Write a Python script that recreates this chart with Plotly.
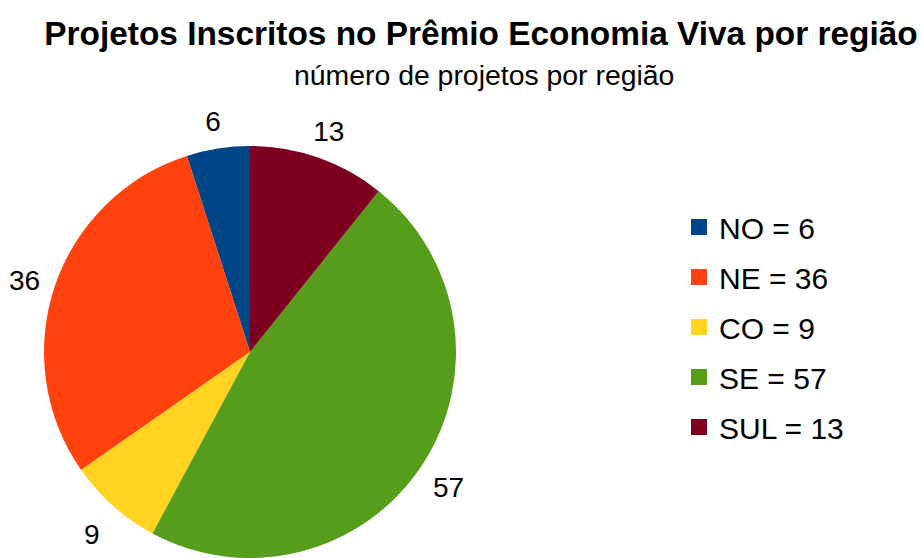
import math
import plotly.graph_objects as go

regions = ["NO", "NE", "CO", "SE", "SUL"]
counts = [6, 36, 9, 57, 13]
colors = ["#004586", "#ff420e", "#ffd320", "#579d1c", "#7e0021"]
title_text = "Projetos Inscritos no Prêmio Economia Viva por região"
subtitle_text = "número de projetos por região"

W, H = 921, 558
FONT = "Liberation Sans"
CX, CY, R = 250, 206, 206  # pie centre (px from left / bottom) and radius (px)
DOMAIN = dict(x=[(CX - R) / W, (CX + R) / W], y=[(CY - R) / H, (CY + R) / H])
LABEL_R = 1.155   # label distance, in pie radii
LABEL_CY = CY - 7  # label ring centre (px from bottom)

total = sum(counts)
first_share = 360.0 * counts[0] / total
# mid-angle of each slice (counterclockwise from 12 o'clock)
mid_angles = []
acc = 0
for c in counts:
    mid_angles.append(2 * math.pi * (acc + c / 2) / total)
    acc += c
label_x = [-LABEL_R * math.sin(a) for a in mid_angles]
label_y = [LABEL_R * math.cos(a) for a in mid_angles]

fig = go.Figure()
fig.add_trace(go.Pie(
    labels=regions, values=counts, sort=False, direction="counterclockwise",
    rotation=-first_share, marker=dict(colors=colors, line=dict(width=0)),
    textinfo="none", showlegend=False, hoverinfo="label+value",
    domain=DOMAIN,
))
# slice value labels on an axis system whose unit is the pie radius
fig.add_trace(go.Scatter(
    x=label_x, y=label_y, mode="text",
    text=[str(c) for c in counts], textposition="middle center",
    textfont=dict(family=FONT, size=28, color="black"),
    cliponaxis=False, showlegend=False, hoverinfo="skip",
))
for r, c, col in zip(regions, counts, colors):
    fig.add_trace(go.Scatter(
        x=[None], y=[None], mode="markers", name=f"{r} = {c}",
        legendgroup=r, hoverinfo="skip",
        marker=dict(symbol="square", size=17, color=col, line=dict(width=0)),
    ))

fig.update_layout(
    width=W, height=H,
    margin=dict(l=0, r=0, t=0, b=0),
    paper_bgcolor="white", plot_bgcolor="rgba(0,0,0,0)",
    font=dict(family=FONT, color="black"),
    xaxis=dict(visible=False, domain=[0, 1], range=[-CX / R, (W - CX) / R], fixedrange=True),
    yaxis=dict(visible=False, domain=[0, 1], range=[-LABEL_CY / R, (H - LABEL_CY) / R],
               fixedrange=True),
    title=dict(text=f"<b>{title_text}</b>", x=481 / W, xanchor="center",
               y=1 - 33 / H, yanchor="middle", yref="container",
               font=dict(family=FONT, size=33.4, color="black")),
    annotations=[dict(text=subtitle_text, x=484 / W, y=1 - 75 / H,
                      xref="paper", yref="paper", xanchor="center", yanchor="middle",
                      showarrow=False, font=dict(family=FONT, size=28.4, color="black"))],
    legend=dict(x=679 / W, xanchor="left", y=1 - 201 / H, yanchor="top",
                font=dict(family=FONT, size=30, color="black"),
                tracegroupgap=8, bgcolor="rgba(0,0,0,0)"),
)
fig.write_html("out.html", config={"displayModeBar": False},
               post_script="document.body.style.margin='0';")
